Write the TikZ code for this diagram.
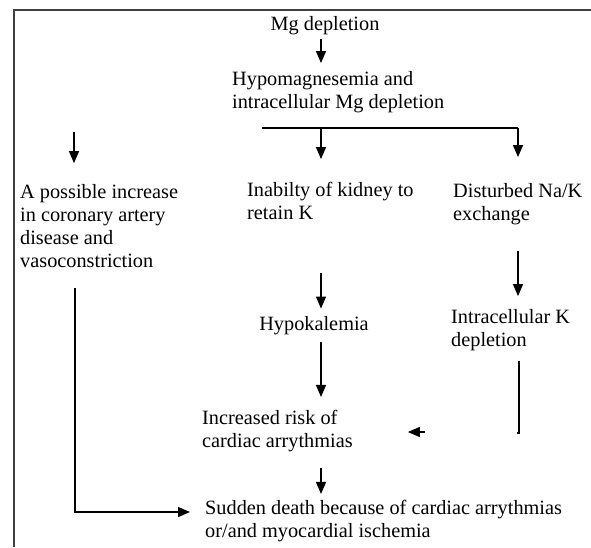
\documentclass[tikz,border=0pt]{standalone}
\usepackage{fontspec}
\setmainfont{Liberation Serif}
\usetikzlibrary{arrows.meta,positioning,calc}

\begin{document}
\begin{tikzpicture}[
    x=1pt, y=-1pt,
    txt/.style={inner sep=0pt,align=left,font=\fontsize{20.3}{23}\selectfont},
    line/.style={line width=1.3pt},
    arrow/.style={line width=1.3pt,-{Triangle[length=12pt,width=10pt]}},
    frame/.style={line width=2pt,black!75}
]
\useasboundingbox (0,0) rectangle (591,547);
% Frame
\draw[frame] (14,547) -- (14,10) -- (591,10);

% Top
\node[txt] (mg) at (325,26) {Mg depletion};
\node[txt,anchor=west] (hypo) at (232,92) {Hypomagnesemia and\\intracellular Mg depletion};

% Three branches
\node[txt,anchor=west] (cad) at (20,226) {A possible increase\\in coronary artery\\disease and\\vasoconstriction};
\node[txt,anchor=west] (kidney) at (247,201) {Inabilty of kidney to\\retain K};
\node[txt,anchor=west] (nak) at (453,204) {Disturbed Na/K\\exchange};

% Potassium
\node[txt] (hypok) at (314,326) {Hypokalemia};
\node[txt,anchor=west] (kdep) at (451,330) {Intracellular K\\depletion};

% Outcome
\node[txt,anchor=west] (risk) at (202,431) {Increased risk of\\cardiac arrythmias};
\node[txt,anchor=west] (death) at (205,521) {Sudden death because of cardiac arrythmias\\or/and myocardial ischemia};

% Columns
\coordinate (leftx) at (74,0);
\coordinate (midx) at (321,0);
\coordinate (rightx) at (518,0);
\coordinate (busL) at (262,128);
\coordinate (busR) at (518,128);
\coordinate (cadL) at (74,132);
\coordinate (kend) at (519,433);
\coordinate (gapR) at (425,432);
\coordinate (lcorner) at (75,512);

% Arrows
\draw[arrow] ([yshift=-4pt]mg.south -| midx) -- ([yshift=8pt]hypo.north -| midx);
\draw[line] (busL) -- (busR);
\draw[arrow] (busL -| midx) -- ([yshift=23pt]kidney.north -| midx);
\draw[arrow] (busR) -- ([yshift=26pt]nak.north -| busR);
\draw[arrow] (cadL) -- ([yshift=21pt]cad.north -| cadL);
\draw[arrow] ([yshift=-26pt]nak.south -| rightx) -- ([yshift=13pt]kdep.north -| rightx);
\draw[arrow] ([yshift=-53pt]kidney.south -| midx) -- ([yshift=8pt]hypok.north -| midx);
\draw[arrow] ([yshift=-7pt]hypok.south -| midx) -- ([yshift=13pt]risk.north -| midx);
\draw[line] ([yshift=-10pt]kdep.south -| kend) -- (kend) -- ++(-2,0);
\draw[arrow] (gapR) -- ([xshift=55pt]risk.east |- gapR);
\draw[arrow] ([yshift=-16pt]risk.south -| midx) -- ([yshift=6pt]death.north -| midx);
\draw[arrow] ([yshift=-20pt]cad.south -| lcorner) -- (lcorner) -- ([xshift=-15pt]death.west |- lcorner);
\end{tikzpicture}
\end{document}
